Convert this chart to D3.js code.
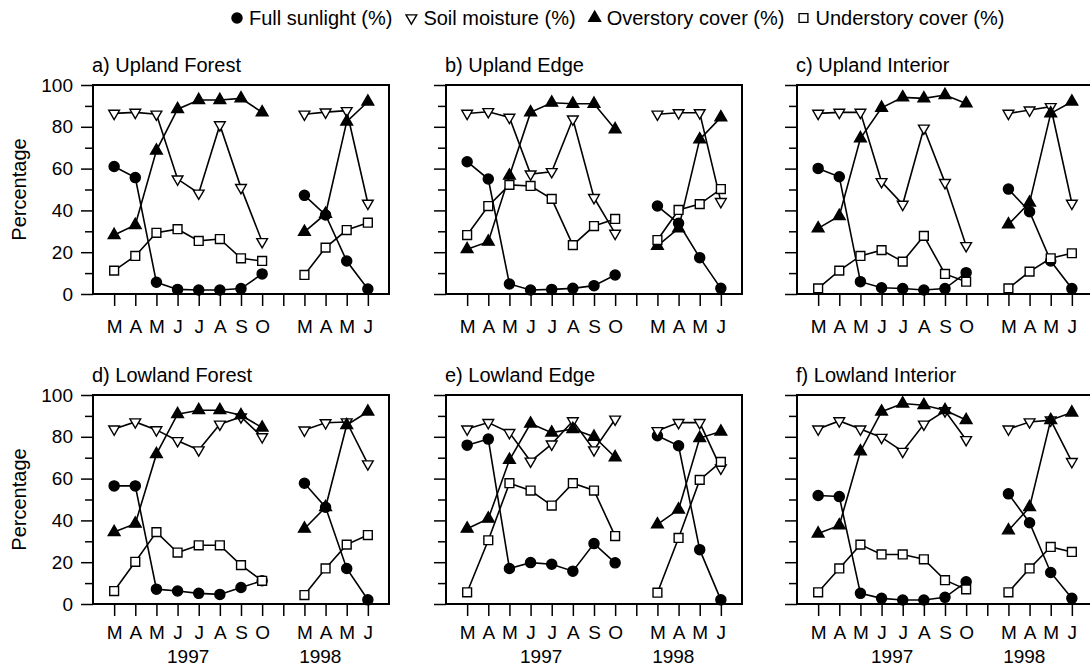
<!DOCTYPE html>
<html>
<head>
<meta charset="utf-8">
<script src="https://cdn.jsdelivr.net/npm/d3@7"></script>
<style>
  body { margin: 0; background: #fff; }
  svg { display: block; font-family: "Liberation Sans", Arial, sans-serif; }
</style>
</head>
<body>
<svg width="1090" height="668"></svg>
<script>
// month slots: 1-8 = 1997 (Mar-Oct), 9 = gap, 10-13 = 1998 (Mar-Jun)
const months = ["M", "A", "M", "J", "J", "A", "S", "O", "", "M", "A", "M", "J"];
const slots = [1, 2, 3, 4, 5, 6, 7, 8, 10, 11, 12, 13];
const years = ["1997", "1998"];
const panelTitles = ["a) Upland Forest", "b) Upland Edge", "c) Upland Interior",
                     "d) Lowland Forest", "e) Lowland Edge", "f) Lowland Interior"];
const seriesNames = ["Full sunlight (%)", "Soil moisture (%)", "Overstory cover (%)", "Understory cover (%)"];
const yTicks = [0, 10, 20, 30, 40, 50, 60, 70, 80, 90, 100];

// one row per panel a-f, 8 values for 1997 then 4 for 1998
const sunlight = [
  [61, 55.7, 5.6, 2.2, 1.9, 1.9, 2.6, 9.6, 47.2, 37.8, 15.8, 2.4],
  [63.3, 55, 4.8, 1.9, 2.2, 2.7, 4, 9.1, 42.1, 33.8, 17.4, 2.7],
  [60.1, 56.1, 5.9, 3, 2.6, 1.9, 2.6, 10.2, 50.2, 39.4, 15.8, 2.6],
  [56.5, 56.5, 7.1, 6.2, 5.1, 4.6, 7.9, 11.1, 57.8, 46.3, 17, 2],
  [76, 78.9, 17, 19.8, 19, 15.7, 28.9, 19.7, 80.5, 75.7, 26, 2],
  [51.9, 51.4, 5.1, 2.7, 1.9, 1.9, 3.2, 10.6, 52.7, 38.9, 15.1, 2.7]
];
const soilMoisture = [
  [86.4, 86.9, 86, 55, 48.2, 80.9, 50.9, 25, 86, 87, 87.7, 43.4],
  [86.4, 87.2, 84.5, 57.4, 58.5, 83.7, 46.1, 29, 86, 86.7, 86.7, 44.2],
  [86.4, 86.9, 86.9, 53.7, 42.9, 79.3, 53.3, 23.1, 86.4, 88, 89.6, 43.4],
  [83.7, 87.1, 83.3, 78.1, 73.7, 86, 89.5, 80, 83.2, 86.7, 87.1, 67],
  [83.7, 86.8, 82, 68.3, 76.5, 87.6, 73.7, 88.4, 82.9, 86.8, 86.8, 65],
  [83.7, 87.6, 83.7, 79.7, 73, 86, 92.4, 78.6, 83.7, 87.1, 88, 68.1]
];
const overstory = [
  [28.2, 33, 68.6, 88.4, 92.8, 92.8, 93.6, 86.9, 29.7, 38.3, 82.5, 92],
  [21.4, 25, 56.6, 86.9, 91.5, 91, 91, 78.8, 23, 31.4, 74, 84.5],
  [31.4, 37.3, 74.5, 89.1, 94.1, 93.6, 95.2, 91.2, 33.3, 43.7, 86.4, 92],
  [34.4, 38.4, 71.7, 90.8, 92.7, 92.7, 90.3, 84.4, 36, 46.3, 85.6, 92],
  [36, 40.8, 68.9, 86.3, 82, 83.7, 80, 70.2, 38.1, 45.2, 79.4, 82.5],
  [33.7, 37.6, 73, 92, 95.9, 95.1, 92.7, 88, 35.2, 46.3, 88, 91.6]
];
const understory = [
  [11.2, 18.2, 29.3, 31, 25.4, 26.3, 17.1, 15.8, 9.1, 22.2, 30.6, 34.1],
  [28.2, 42.1, 52.2, 51.7, 45.5, 23.4, 32.5, 35.9, 25.8, 40.2, 43, 50.2],
  [2.7, 11.2, 18.2, 21, 15.5, 27.8, 9.6, 5.9, 2.7, 10.7, 17.1, 19.5],
  [6.2, 20.2, 34.4, 24.6, 28.1, 28.1, 18.6, 11.1, 4.3, 17, 28.4, 33],
  [5.6, 30.5, 57.8, 54.3, 47.1, 57.8, 54.3, 32.5, 5.4, 31.6, 59.4, 68],
  [5.6, 17, 28.4, 23.7, 23.7, 21.4, 11.4, 7, 5.6, 17, 27.3, 24.9]
];

const allSeries = [sunlight, soilMoisture, overstory, understory];

const svg = d3.select("svg");

// marker shapes, same order as seriesNames
const markers = [
  { type: d3.symbolCircle, size: 80, fill: "#000", rotate: 0 },
  { type: d3.symbolTriangle, size: 50, fill: "#fff", rotate: 180 },
  { type: d3.symbolTriangle, size: 60, fill: "#000", rotate: 0 },
  { type: d3.symbolSquare, size: 78, fill: "#fff", rotate: 0 }
];

function drawMarker(g, m, x, y) {
  g.append("path")
    .attr("d", d3.symbol().type(m.type).size(m.size))
    .attr("transform", `translate(${x},${y}) rotate(${m.rotate})`)
    .attr("fill", m.fill)
    .attr("stroke", "#000")
    .attr("stroke-width", 1.4);
}

// panel layout
const colLeft = [93, 446, 797];
const rowTop = [85, 395];
const pw = 296, ph = 209;

const x = d3.scaleLinear().domain([0, 14]).range([0, pw]);
const y = d3.scaleLinear().domain([0, 100]).range([ph, 0]);

const line = d3.line().x(d => x(d.slot)).y(d => y(d.v));

panelTitles.forEach((title, p) => {
  const col = p % 3, row = Math.floor(p / 3);
  const g = svg.append("g").attr("transform", `translate(${colLeft[col]},${rowTop[row]})`);

  g.append("text")
    .attr("x", -1)
    .attr("y", -13)
    .attr("font-size", 20)
    .text(title);

  // y axis: minor and major ticks, labels only on the first column
  g.append("g")
    .call(d3.axisLeft(y).tickValues(yTicks.filter(t => t % 20 !== 0)).tickSize(8).tickFormat(""))
    .call(a => a.select(".domain").remove())
    .selectAll("line").attr("stroke-width", 1.5);
  const ya = g.append("g")
    .call(d3.axisLeft(y).tickValues(yTicks.filter(t => t % 20 === 0)).tickSize(12).tickPadding(8)
      .tickFormat(col === 0 ? d3.format("d") : ""));
  ya.select(".domain").remove();
  ya.selectAll("line").attr("stroke-width", 1.5);
  ya.selectAll("text").attr("font-size", 19).attr("fill", "#000").attr("font-family", null);

  // x axis
  const xa = g.append("g")
    .attr("transform", `translate(0,${ph})`)
    .call(d3.axisBottom(x).tickValues(d3.range(1, 14)).tickSize(12).tickPadding(row === 0 ? 14 : 10)
      .tickFormat(d => months[d - 1]));
  xa.select(".domain").remove();
  xa.selectAll("line").attr("stroke-width", 1.5);
  xa.selectAll("text").attr("font-size", 19).attr("fill", "#000").attr("font-family", null);

  if (row === 1) {
    g.append("text").attr("x", x(4.5)).attr("y", ph + 59)
      .attr("text-anchor", "middle").attr("font-size", 19).text(years[0]);
    g.append("text").attr("x", x(10.75)).attr("y", ph + 59)
      .attr("text-anchor", "middle").attr("font-size", 19).text(years[1]);
  }

  // frame
  g.append("rect")
    .attr("width", pw).attr("height", ph)
    .attr("fill", "none").attr("stroke", "#000").attr("stroke-width", 2);

  // lines, 1997 and 1998 drawn as separate pieces
  allSeries.forEach(series => {
    const pts = series[p].map((v, i) => ({ slot: slots[i], v: v }));
    [pts.slice(0, 8), pts.slice(8)].forEach(seg => {
      g.append("path")
        .datum(seg)
        .attr("d", line)
        .attr("fill", "none")
        .attr("stroke", "#000")
        .attr("stroke-width", 1.6);
    });
  });

  allSeries.forEach((series, s) => {
    series[p].forEach((v, i) => drawMarker(g, markers[s], x(slots[i]), y(v)));
  });
});

// y axis titles
rowTop.forEach(t => {
  svg.append("text")
    .attr("transform", `translate(26,${t + ph / 2}) rotate(-90)`)
    .attr("text-anchor", "middle")
    .attr("font-size", 20)
    .text("Percentage");
});

// legend, laid out left to right
const legend = svg.append("g").attr("transform", "translate(0,18)");
let lx = 237;
seriesNames.forEach((name, s) => {
  drawMarker(legend, markers[s], lx, 0);
  const t = legend.append("text")
    .attr("x", lx + 12)
    .attr("y", 7)
    .attr("font-size", 20)
    .text(name);
  lx += 12 + t.node().getComputedTextLength() + 19;
});
</script>
</body>
</html>
